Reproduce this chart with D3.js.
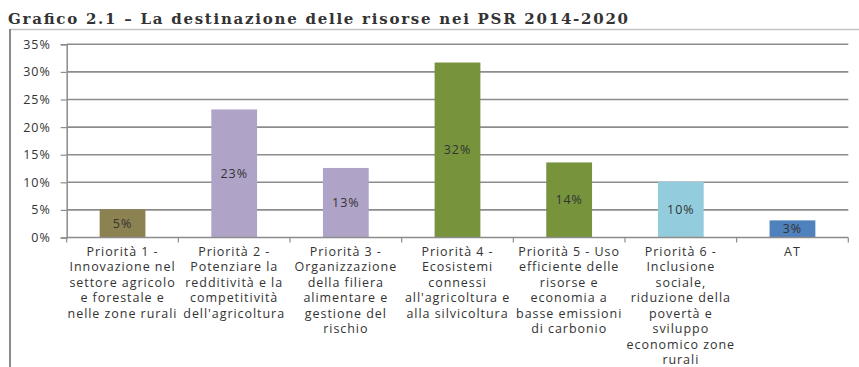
<!DOCTYPE html>
<html>
<head>
<meta charset="utf-8">
<script src="https://cdn.jsdelivr.net/npm/d3@7/dist/d3.min.js"></script>
<style>
  html, body { margin: 0; padding: 0; background: #fff; }
  svg { display: block; }
</style>
</head>
<body>
<svg id="chart" width="859" height="367"></svg>
<script>
// Resource allocation by priority, PSR 2014-2020 (share of total)
const categories = ["P1", "P2", "P3", "P4", "P5", "P6", "AT"];
const categoryLabels = [
  ["Priorità 1 -", "Innovazione nel", "settore agricolo", "e forestale e", "nelle zone rurali"],
  ["Priorità 2 -", "Potenziare la", "redditività e la", "competitività", "dell'agricoltura"],
  ["Priorità 3 -", "Organizzazione", "della filiera", "alimentare e", "gestione del", "rischio"],
  ["Priorità 4 -", "Ecosistemi", "connessi", "all'agricoltura e", "alla silvicoltura"],
  ["Priorità 5 - Uso", "efficiente delle", "risorse e", "economia a", "basse emissioni", "di carbonio"],
  ["Priorità 6 -", "Inclusione", "sociale,", "riduzione della", "povertà e", "sviluppo", "economico zone", "rurali"],
  ["AT"]
];
const shares = [0.051, 0.232, 0.126, 0.317, 0.136, 0.101, 0.031];
const barColors = ["#8c8150", "#b0a3c8", "#b0a3c8", "#77933c", "#77933c", "#93cddd", "#4f81bd"];
const yTicks = [0, 0.05, 0.10, 0.15, 0.20, 0.25, 0.30, 0.35];
const title = "Grafico 2.1 \u2013 La destinazione delle risorse nei PSR 2014-2020";

const svg = d3.select("#chart");
const plot = { left: 66.7, right: 848.3, top: 44.3, bottom: 237.5 };
const sans = "'Open Sans', 'Noto Sans', sans-serif";
const fs = 12.5, ls = "0.95px";

// Title
svg.append("text")
  .attr("x", 8).attr("y", 23.5)
  .attr("font-family", "'DejaVu Serif', 'Liberation Serif', serif")
  .attr("font-weight", "bold")
  .attr("font-size", 15)
  .attr("fill", "#333")
  .attr("textLength", 620)
  .attr("lengthAdjust", "spacing")
  .text(title);

// Frame
svg.append("line").attr("x1", 10).attr("x2", 859).attr("y1", 29.5).attr("y2", 29.5)
  .attr("stroke", "#c4c4c4").attr("stroke-width", 1.5);
svg.append("line").attr("x1", 10).attr("x2", 10).attr("y1", 29).attr("y2", 367)
  .attr("stroke", "#8a8a8a").attr("stroke-width", 2);

const x = d3.scaleBand().domain(categories).range([plot.left, plot.right]).padding(0);
const y = d3.scaleLinear().domain([0, 0.35]).range([plot.bottom, plot.top]);
const barW = x.bandwidth() * 0.41;

// Gridlines
svg.append("g").selectAll("line")
  .data(yTicks.filter(d => d > 0))
  .join("line")
  .attr("x1", plot.left).attr("x2", plot.right)
  .attr("y1", d => y(d)).attr("y2", d => y(d))
  .attr("stroke", "#8c8c8c").attr("stroke-width", 1.6);

// Y axis
const yAxis = svg.append("g")
  .attr("transform", `translate(${plot.left},0)`)
  .call(d3.axisLeft(y).tickValues(yTicks).tickFormat(d3.format(".0%")).tickSize(6).tickPadding(10));
yAxis.select(".domain").attr("stroke", "#8c8c8c").attr("stroke-width", 1.5);
yAxis.selectAll(".tick line").attr("stroke", "#8c8c8c").attr("stroke-width", 1.2);
yAxis.selectAll(".tick text")
  .attr("font-family", sans).attr("font-size", fs).attr("letter-spacing", ls).attr("fill", "#333");

// Bars
svg.append("g").selectAll("rect")
  .data(shares)
  .join("rect")
  .attr("x", (d, i) => x(categories[i]) + (x.bandwidth() - barW) / 2)
  .attr("y", d => y(d))
  .attr("width", barW)
  .attr("height", d => y(0) - y(d))
  .attr("fill", (d, i) => barColors[i]);

// Value labels in the middle of each bar
svg.append("g").selectAll("text")
  .data(shares)
  .join("text")
  .attr("x", (d, i) => x(categories[i]) + x.bandwidth() / 2)
  .attr("y", d => (y(d) + y(0)) / 2)
  .attr("dy", "0.35em")
  .attr("text-anchor", "middle")
  .attr("font-family", sans).attr("font-size", fs).attr("letter-spacing", ls).attr("fill", "#333")
  .text(d => d3.format(".0%")(d));

// X axis with category boundary ticks
const xAxisG = svg.append("g");
xAxisG.append("line")
  .attr("x1", plot.left).attr("x2", plot.right)
  .attr("y1", plot.bottom).attr("y2", plot.bottom)
  .attr("stroke", "#8c8c8c").attr("stroke-width", 1.5);
xAxisG.selectAll("line.tick")
  .data(categories.map(c => x(c)).concat([plot.right]))
  .join("line").attr("class", "tick")
  .attr("x1", d => d).attr("x2", d => d)
  .attr("y1", plot.bottom).attr("y2", plot.bottom + 5)
  .attr("stroke", "#8c8c8c").attr("stroke-width", 1.2);

// Multi-line category labels
const labelG = svg.append("g")
  .attr("font-family", sans).attr("font-size", fs).attr("letter-spacing", ls).attr("fill", "#333")
  .attr("text-anchor", "middle");
categories.forEach((c, i) => {
  const cx = x(c) + x.bandwidth() / 2;
  const t = labelG.append("text").attr("x", cx).attr("y", 255.5);
  categoryLabels[i].forEach((line, k) => {
    t.append("tspan")
      .attr("x", cx)
      .attr("dy", k === 0 ? 0 : 15.5)
      .text(line);
  });
});
</script>
</body>
</html>
